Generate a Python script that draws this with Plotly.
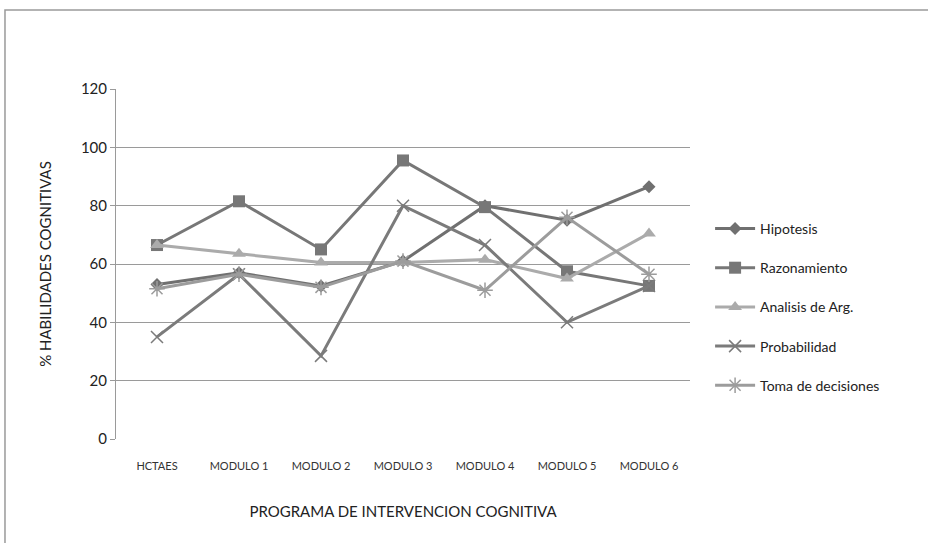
import plotly.graph_objects as go

categorias = ["HCTAES", "MODULO 1", "MODULO 2", "MODULO 3", "MODULO 4", "MODULO 5", "MODULO 6"]
hipotesis = [53, 57, 52.5, 61, 80, 75, 86.5]
razonamiento = [66.5, 81.5, 65, 95.5, 79.5, 57.5, 52.5]
analisis = [66.5, 63.5, 60.5, 60.5, 61.5, 55, 70.5]
probabilidad = [35, 56.5, 28.5, 80, 66.5, 40, 52.5]
toma_decisiones = [51.5, 56.5, 52, 61, 51, 76, 56.5]

series = [
    ("Hipotesis", hipotesis, "#707070", "diamond", 10, 0),
    ("Razonamiento", razonamiento, "#777777", "square", 12, 0),
    ("Analisis de Arg.", analisis, "#ababab", "triangle-up", 12, 0),
    ("Probabilidad", probabilidad, "#7b7b7b", "x-thin", 12, 1.5),
    ("Toma de decisiones", toma_decisiones, "#9c9c9c", "asterisk", 13, 1.5),
]

fig = go.Figure()
for name, vals, col, sym, sz, lw in series:
    fig.add_trace(go.Scatter(
        x=categorias, y=vals, name=name, mode="lines+markers",
        legendgroup=name,
        line=dict(color=col, width=3),
        marker=dict(symbol=sym, size=sz, color=col, line=dict(color=col, width=lw)),
    ))

font = "Lato, 'Open Sans', sans-serif"
fig.update_layout(
    width=928, height=543,
    margin=dict(l=116, r=238, t=89, b=104),
    paper_bgcolor="white", plot_bgcolor="white",
    font=dict(family=font, color="#222222"),
    showlegend=True,
    legend=dict(x=1.035, y=0.646, xanchor="left", yanchor="top",
                font=dict(size=14, color="#222222"), tracegroupgap=18,
                bgcolor="rgba(0,0,0,0)", itemwidth=40),
    xaxis=dict(
        type="category", showgrid=False, showline=False, ticks="",
        tickfont=dict(size=11, color="#333333"), ticklabelstandoff=19,
        title=dict(text="PROGRAMA DE INTERVENCION COGNITIVA", font=dict(size=15, color="#222222"), standoff=35),
        range=[-0.5, 6.5],
    ),
    yaxis=dict(
        range=[0, 120], dtick=20, showgrid=True, gridcolor="#9a9a9a", gridwidth=1,
        showline=True, linecolor="#9a9a9a", linewidth=1, ticks="outside", ticklen=5,
        tickcolor="#9a9a9a", tickfont=dict(size=15, color="#222222"),
        zeroline=False,
        title=dict(text="% HABILIDADES COGNITIVAS", font=dict(size=15, color="#222222"), standoff=25),
    ),
    shapes=[dict(type="rect", xref="paper", yref="paper",
                 x0=-0.1934, x1=1.43, y0=-0.31, y1=1.2257,
                 line=dict(color="#9a9a9a", width=1.5))],
)

fig.write_html("out.html", config={"displayModeBar": False},
               post_script="document.body.style.margin='0';document.body.style.overflow='hidden';")
